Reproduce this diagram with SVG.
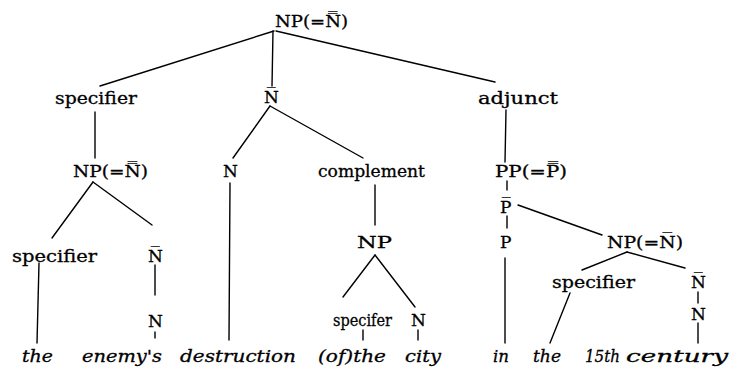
<svg xmlns="http://www.w3.org/2000/svg" width="731" height="372" viewBox="0 0 731 372">
<style>
.t{font-family:"DejaVu Serif","Liberation Serif",serif;font-size:17px;fill:#000;stroke:#000;stroke-width:0.3}
.w{font-family:"DejaVu Serif","Liberation Serif",serif;font-size:17px;font-style:italic;fill:#000;stroke:#000;stroke-width:0.3}
.e line{stroke:#000;stroke-width:1.4;stroke-linecap:round}
</style>
<rect width="731" height="372" fill="#fff"/>
<g class="e" id="connectors">
<line x1="274" y1="31" x2="100" y2="86"/>
<line x1="273" y1="31" x2="272" y2="86"/>
<line x1="276" y1="31" x2="495" y2="82"/>
<line x1="95" y1="112" x2="95" y2="158"/>
<line x1="93" y1="182" x2="52" y2="238"/>
<line x1="93" y1="182" x2="152" y2="225"/>
<line x1="39" y1="263" x2="37" y2="343"/>
<line x1="155" y1="265" x2="155" y2="295"/>
<line x1="155" y1="332" x2="155" y2="338"/>
<line x1="270" y1="106" x2="233" y2="158"/>
<line x1="270" y1="106" x2="363" y2="158"/>
<line x1="230" y1="183" x2="229" y2="340"/>
<line x1="375" y1="185" x2="375" y2="225"/>
<line x1="375" y1="255" x2="343" y2="297"/>
<line x1="375" y1="255" x2="415" y2="307"/>
<line x1="363" y1="330" x2="363" y2="340"/>
<line x1="418" y1="330" x2="418" y2="340"/>
<line x1="506" y1="110" x2="505" y2="162"/>
<line x1="507" y1="181" x2="507" y2="190"/>
<line x1="507" y1="216" x2="507" y2="228"/>
<line x1="505" y1="258" x2="505" y2="343"/>
<line x1="518" y1="205" x2="602" y2="235"/>
<line x1="627" y1="252" x2="582" y2="270"/>
<line x1="627" y1="252" x2="685" y2="268"/>
<line x1="570" y1="293" x2="550" y2="343"/>
<line x1="698" y1="292" x2="698" y2="303"/>
<line x1="698" y1="323" x2="698" y2="343"/>
</g>
<g id="np-root"><text class="t" x="275" y="27" textLength="73" lengthAdjust="spacingAndGlyphs">NP(=N&#x033F;)</text></g>
<g id="specifier1"><text class="t" x="55" y="104" textLength="82" lengthAdjust="spacingAndGlyphs">specifier</text></g>
<g id="nbar1"><text class="t" x="264" y="103">N&#x0305;</text></g>
<g id="adjunct"><text class="t" x="478" y="104" textLength="80" lengthAdjust="spacingAndGlyphs">adjunct</text></g>
<g id="np2"><text class="t" x="73" y="177" textLength="75" lengthAdjust="spacingAndGlyphs">NP(=N&#x033F;)</text></g>
<g id="n1"><text class="t" x="223" y="177">N</text></g>
<g id="complement"><text class="t" x="318" y="177" textLength="107" lengthAdjust="spacingAndGlyphs">complement</text></g>
<g id="pp"><text class="t" x="495" y="177" textLength="72" lengthAdjust="spacingAndGlyphs">PP(=P&#x033F;)</text></g>
<g id="pbar"><text class="t" x="500" y="213">P&#x0305;</text></g>
<g id="p"><text class="t" x="500" y="248">P</text></g>
<g id="np3"><text class="t" x="357" y="248" textLength="35" lengthAdjust="spacingAndGlyphs">NP</text></g>
<g id="np4"><text class="t" x="607" y="248" textLength="76" lengthAdjust="spacingAndGlyphs">NP(=N&#x0305;)</text></g>
<g id="specifier2"><text class="t" x="12" y="262" textLength="85" lengthAdjust="spacingAndGlyphs">specifier</text></g>
<g id="nbar2"><text class="t" x="148" y="262">N&#x0305;</text></g>
<g id="n2"><text class="t" x="148" y="327">N</text></g>
<g id="specifer"><text class="t" x="333" y="326" textLength="59" lengthAdjust="spacingAndGlyphs">specifer</text></g>
<g id="n3"><text class="t" x="411" y="326">N</text></g>
<g id="specifier3"><text class="t" x="552" y="288" textLength="83" lengthAdjust="spacingAndGlyphs">specifier</text></g>
<g id="nbar3"><text class="t" x="691" y="288">N&#x0305;</text></g>
<g id="n4"><text class="t" x="691" y="320">N</text></g>
<g id="words">
<text class="w" x="22" y="362" textLength="31" lengthAdjust="spacingAndGlyphs">the</text>
<text class="w" x="82" y="362" textLength="80" lengthAdjust="spacingAndGlyphs">enemy's</text>
<text class="w" x="180" y="362" textLength="116" lengthAdjust="spacingAndGlyphs">destruction</text>
<text class="w" x="318" y="362" textLength="68" lengthAdjust="spacingAndGlyphs">(of)the</text>
<text class="w" x="405" y="362" textLength="36" lengthAdjust="spacingAndGlyphs">city</text>
<text class="w" x="493" y="362" textLength="16" lengthAdjust="spacingAndGlyphs">in</text>
<text class="w" x="533" y="362" textLength="28" lengthAdjust="spacingAndGlyphs">the</text>
<text class="w" x="585" y="362" textLength="35" lengthAdjust="spacingAndGlyphs">15th</text>
<text class="w" x="626" y="362" textLength="102" lengthAdjust="spacingAndGlyphs">century</text>
</g>
</svg>
